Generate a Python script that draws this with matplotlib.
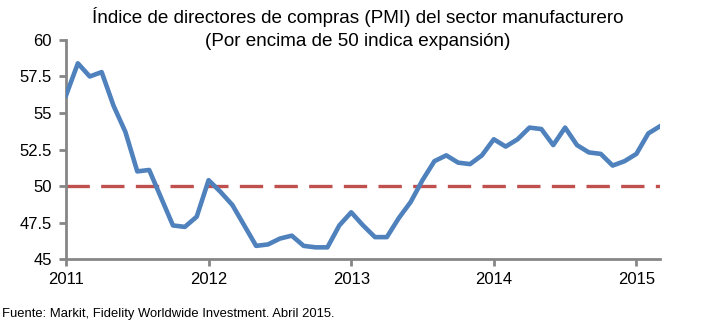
import matplotlib.pyplot as plt
import numpy as np

plt.rcParams['font.family'] = ['Liberation Sans', 'DejaVu Sans']

# PMI manufacturero, mensual, enero 2011 - marzo 2015
pmi = [56.2, 58.4, 57.5, 57.8, 55.5, 53.7, 51.0, 51.1, 49.2, 47.3, 47.2, 47.9,
       50.4, 49.6, 48.7, 47.3, 45.9, 46.0, 46.4, 46.6, 45.9, 45.8, 45.8, 47.3,
       48.2, 47.3, 46.5, 46.5, 47.8, 48.9, 50.4, 51.7, 52.1, 51.6, 51.5, 52.1,
       53.2, 52.7, 53.2, 54.0, 53.9, 52.8, 54.0, 52.8, 52.3, 52.2, 51.4, 51.7,
       52.2, 53.6, 54.1]
years = [2011, 2012, 2013, 2014, 2015]
yticks = [45, 47.5, 50, 52.5, 55, 57.5, 60]
ytick_labels = ['45', '47.5', '50', '52.5', '55', '57.5', '60']
threshold = 50

title = ('Índice de directores de compras (PMI) del sector manufacturero\n'
         '(Por encima de 50 indica expansión)')
source = 'Fuente: Markit, Fidelity Worldwide Investment. Abril 2015.'

x = 2011 + np.arange(len(pmi)) / 12.0

fig = plt.figure(figsize=(7.04, 3.25), dpi=100)
ax = fig.add_axes([0.09375, 0.203, 0.844, 0.674])

ax.plot(x, pmi, color='#4F81BD', lw=3.3, solid_joinstyle='round', zorder=3)
ax.axhline(threshold, color='#C0504D', lw=2.4, dashes=(7, 3.4), zorder=2)

ax.set_xlim(2011, x[-1])
ax.set_ylim(45, 60)
ax.set_xticks(years)
ax.set_xticklabels([str(y) for y in years])
ax.set_yticks(yticks)
ax.set_yticklabels(ytick_labels)

for s in ['top', 'right']:
    ax.spines[s].set_visible(False)
for s in ['left', 'bottom']:
    ax.spines[s].set_color('#868686')
    ax.spines[s].set_linewidth(2)
ax.tick_params(axis='both', colors='#868686', width=2, length=5,
               labelsize=12, labelcolor='black', direction='out')
ax.tick_params(axis='y', pad=5)
ax.tick_params(axis='x', pad=4)

fig.text(0.508, 0.978, title, ha='center', va='top', fontsize=13.6,
         linespacing=1.45)
fig.text(0.003, 0.015, source, ha='left', va='bottom', fontsize=9.4)

fig.savefig('out.png', dpi=100)
